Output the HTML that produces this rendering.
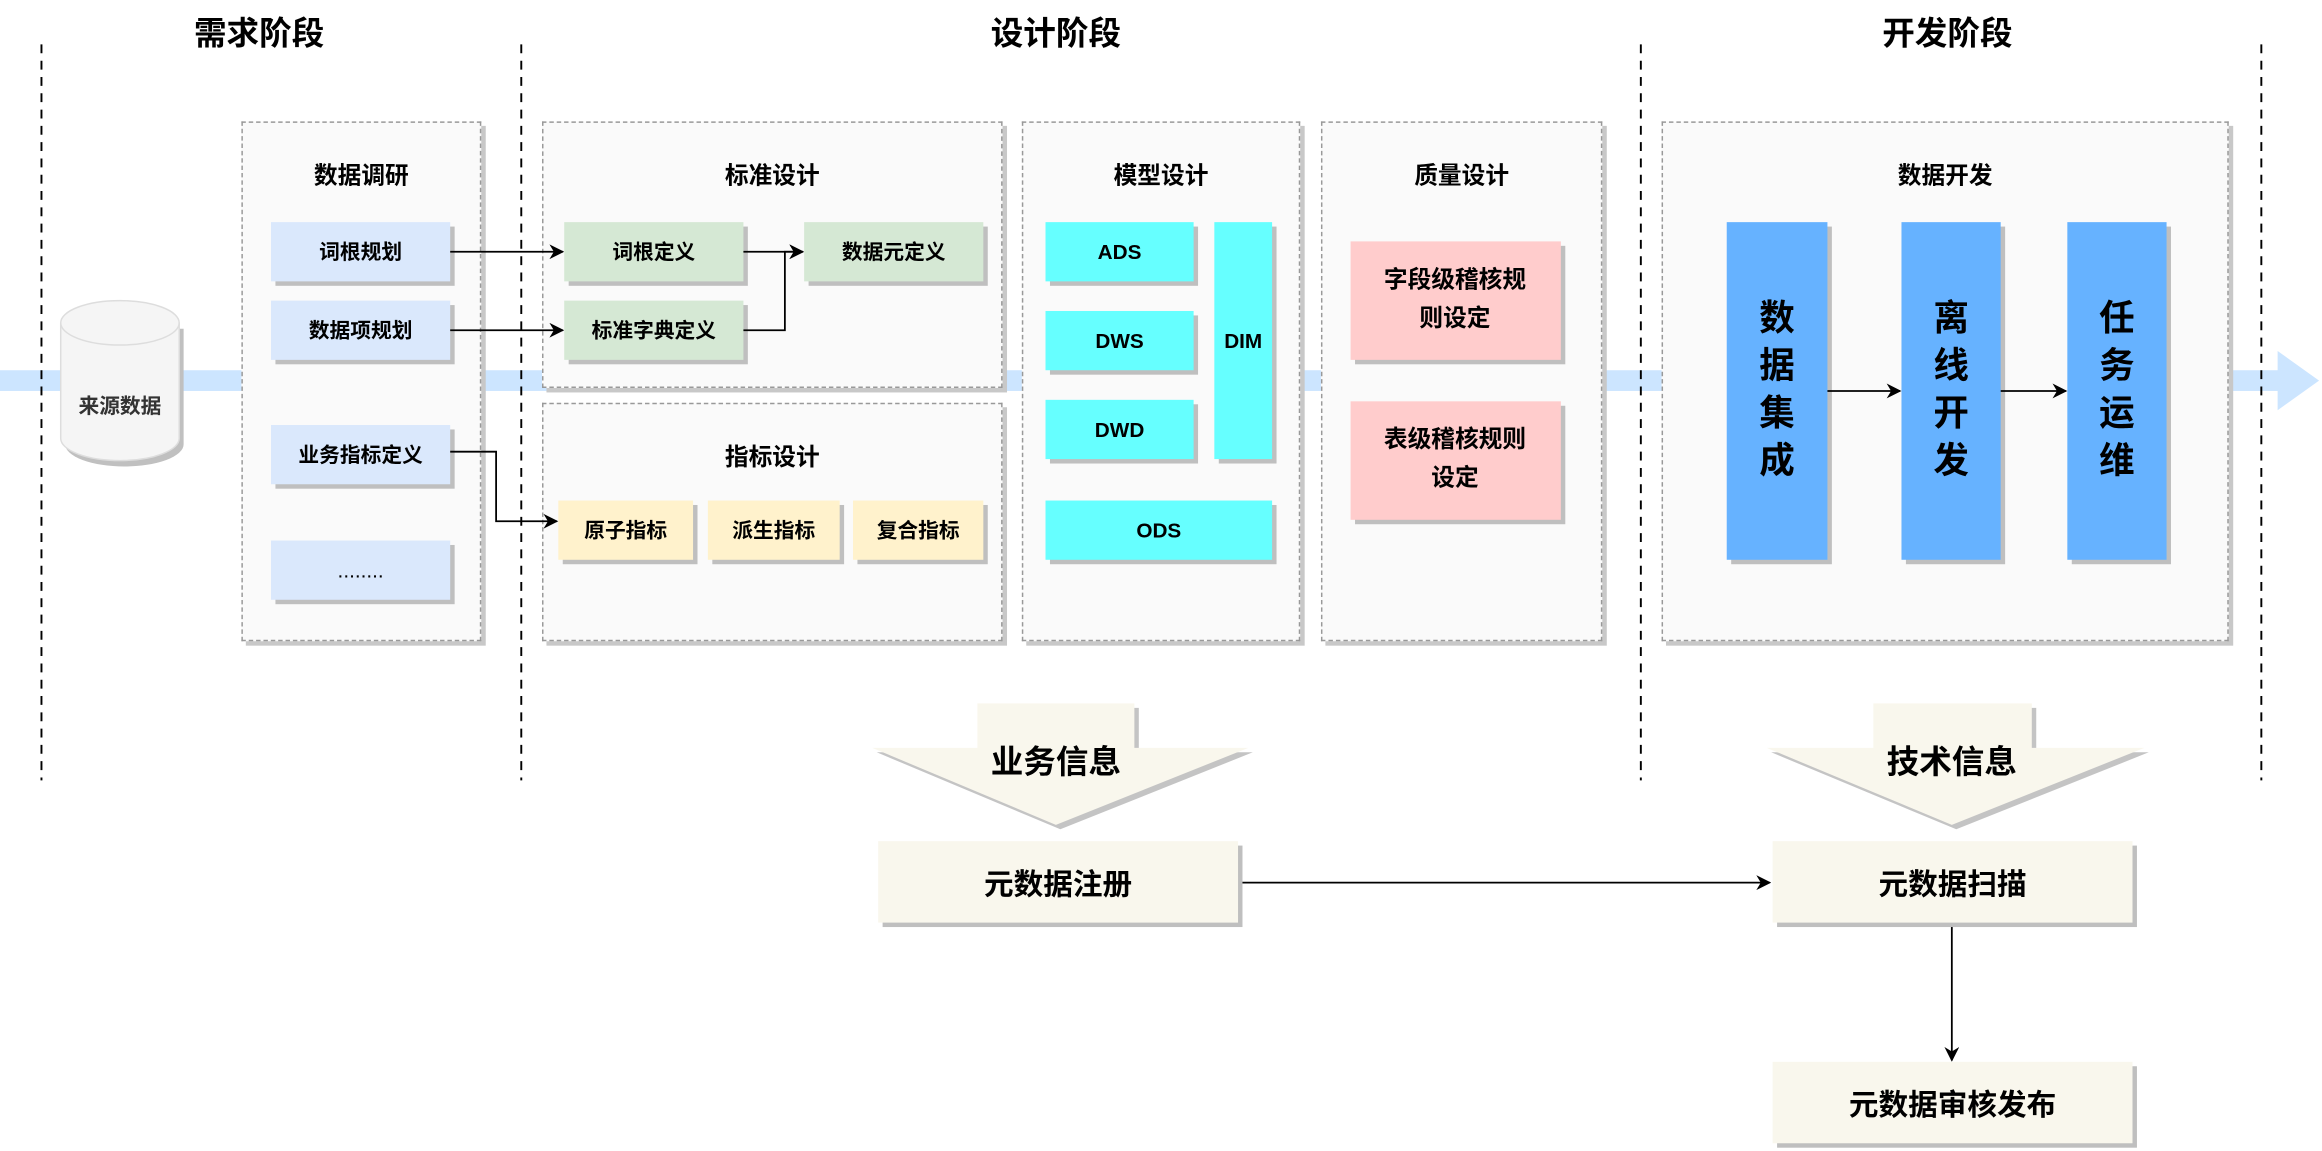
<!DOCTYPE html>
<html><head><meta charset="utf-8"><style>
html,body{margin:0;padding:0;background:#fff;width:2322px;height:1150px;overflow:hidden}
#s{position:absolute;left:0;top:0;width:1568px;height:777px;transform:scale(1.4809);transform-origin:0 0;font-family:"Liberation Sans","Noto Sans CJK SC",sans-serif;font-weight:bold;color:#000}
.a{position:absolute;box-sizing:border-box;display:flex;align-items:center;justify-content:center;text-align:center}
.c{border:1px dashed #999;background:#fafafa;box-shadow:3px 3px 0 #c8c8c8;align-items:flex-start;padding-top:22px;font-size:16px}
.b{font-size:14px;box-shadow:3px 3px 0 #bfbfbf}
.t{font-size:22px}
.bl{background:#dae8fc}.gr{background:#d5e8d4}.ye{background:#fff2cc}.cy{background:#66ffff}.pk{background:#ffcccc}.db{background:#66b2ff;font-size:24px;line-height:32px}
.ms{background:#f9f7ed;font-size:20px}
</style></head><body><div id="s">
<svg width="1568" height="777" style="position:absolute;left:0;top:0">
<rect x="0" y="250" width="1540" height="14" fill="#cce5ff"/>
<polygon points="1538,237 1566,257 1538,277" fill="#cce5ff"/>
<g stroke="#000" stroke-dasharray="6,5" stroke-width="1.3">
<line x1="28" y1="30" x2="28" y2="527"/><line x1="352" y1="30" x2="352" y2="527"/>
<line x1="1108" y1="30" x2="1108" y2="527"/><line x1="1527" y1="30" x2="1527" y2="527"/></g>
</svg>
<div class="a t" style="left:100px;top:5px;width:150px;height:32px">需求阶段</div>
<div class="a t" style="left:638px;top:5px;width:150px;height:32px">设计阶段</div>
<div class="a t" style="left:1240px;top:5px;width:150px;height:32px">开发阶段</div>
<svg width="92" height="125" style="position:absolute;left:38px;top:198px">
<path d="M6,24 L6,102 A40,15 0 0 0 86,102 L86,24 Z" fill="#c0c0c0"/>
<path d="M3,20 L3,98 A40,15 0 0 0 83,98 L83,20 A40,15 0 0 0 3,20 Z" fill="#f5f5f5" stroke="#ddd"/>
<path d="M3,20 A40,15 0 0 0 83,20" fill="none" stroke="#ddd"/>
<text x="43" y="81" text-anchor="middle" font-size="14" fill="#333" font-family="Liberation Sans,Noto Sans CJK SC,sans-serif" font-weight="bold">来源数据</text></svg>
<div class="a c" style="left:163px;top:82px;width:162px;height:351px">数据调研</div>
<div class="a b bl" style="left:183px;top:150px;width:121px;height:40px">词根规划</div>
<div class="a b bl" style="left:183px;top:203px;width:121px;height:40px">数据项规划</div>
<div class="a b bl" style="left:183px;top:287px;width:121px;height:40px">业务指标定义</div>
<div class="a b bl" style="left:183px;top:365px;width:121px;height:40px;font-weight:normal">........</div>
<div class="a c" style="left:366px;top:82px;width:311px;height:180px">标准设计</div>
<div class="a b gr" style="left:381px;top:150px;width:121px;height:40px">词根定义</div>
<div class="a b gr" style="left:543px;top:150px;width:121px;height:40px">数据元定义</div>
<div class="a b gr" style="left:381px;top:203px;width:121px;height:40px">标准字典定义</div>
<div class="a c" style="left:366px;top:272px;width:311px;height:161px">指标设计</div>
<div class="a b ye" style="left:377px;top:338px;width:91px;height:40px">原子指标</div>
<div class="a b ye" style="left:478px;top:338px;width:89px;height:40px">派生指标</div>
<div class="a b ye" style="left:576px;top:338px;width:88px;height:40px">复合指标</div>
<div class="a c" style="left:690px;top:82px;width:188px;height:351px">模型设计</div>
<div class="a b cy" style="left:706px;top:150px;width:100px;height:40px">ADS</div>
<div class="a b cy" style="left:706px;top:210px;width:100px;height:40px">DWS</div>
<div class="a b cy" style="left:706px;top:270px;width:100px;height:40px">DWD</div>
<div class="a b cy" style="left:820px;top:150px;width:39px;height:160px">DIM</div>
<div class="a b cy" style="left:706px;top:338px;width:153px;height:40px">ODS</div>
<div class="a c" style="left:892px;top:82px;width:190px;height:351px">质量设计</div>
<div class="a b pk" style="left:912px;top:163px;width:142px;height:80px;font-size:16px;padding:0 20px 0 19px;line-height:26px">字段级稽核规则设定</div>
<div class="a b pk" style="left:912px;top:271px;width:142px;height:80px;font-size:16px;padding:0 20px 0 19px;line-height:26px">表级稽核规则设定</div>
<div class="a c" style="left:1122px;top:82px;width:383px;height:351px">数据开发</div>
<div class="a b db" style="left:1166px;top:150px;width:68px;height:228px">数<br>据<br>集<br>成</div>
<div class="a b db" style="left:1284px;top:150px;width:67px;height:228px">离<br>线<br>开<br>发</div>
<div class="a b db" style="left:1396px;top:150px;width:67px;height:228px">任<br>务<br>运<br>维</div>
<svg width="1568" height="777" style="position:absolute;left:0;top:0">
<defs><marker id="m" markerWidth="10" markerHeight="10" refX="9" refY="5" orient="auto" markerUnits="userSpaceOnUse"><path d="M0,0 L10,5 L0,10 L3,5 Z" fill="#000"/></marker></defs>
<g stroke="#000" stroke-width="1.2" fill="none" marker-end="url(#m)">
<line x1="304" y1="170" x2="380" y2="170"/><line x1="304" y1="223" x2="380" y2="223"/>
<line x1="502" y1="170" x2="542" y2="170"/><polyline points="502,223 530,223 530,170 542,170"/>
<polyline points="304,305 335,305 335,352 376,352"/>
<line x1="1234" y1="264" x2="1283" y2="264"/><line x1="1351" y1="264" x2="1395" y2="264"/>
<line x1="836" y1="596" x2="1195" y2="596"/><line x1="1318" y1="623" x2="1318" y2="716"/></g>
<polygon points="663,478 769,478 769,508 846,508 716,560 592,508 663,508" fill="#c4c4c4"/>
<polygon points="660,475 766,475 766,505 843,505 713,557 589,505 660,505" fill="#f9f7ed"/>
<polygon points="1268,478 1375,478 1375,508 1451,508 1321,560 1196,508 1268,508" fill="#c4c4c4"/>
<polygon points="1265,475 1372,475 1372,505 1448,505 1318,557 1193,505 1265,505" fill="#f9f7ed"/>
</svg>
<div class="a t" style="left:638px;top:497px;width:150px;height:32px">业务信息</div>
<div class="a t" style="left:1243px;top:497px;width:150px;height:32px">技术信息</div>
<div class="a b ms" style="left:593px;top:568px;width:243px;height:55px">元数据注册</div>
<div class="a b ms" style="left:1197px;top:568px;width:243px;height:55px">元数据扫描</div>
<div class="a b ms" style="left:1197px;top:717px;width:243px;height:55px">元数据审核发布</div>
</div></body></html>
